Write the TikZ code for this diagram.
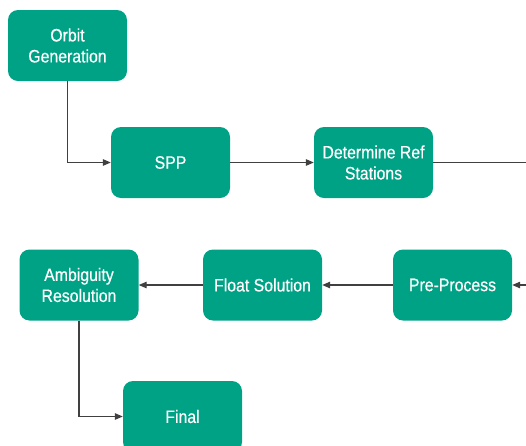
\documentclass[tikz,border=0pt]{standalone}
\usepackage{fontspec}
\setmainfont{Liberation Sans}[FakeStretch=0.88,FakeBold=0.4]
\usetikzlibrary{arrows.meta}
\definecolor{boxteal}{RGB}{0,162,134}
\definecolor{linegray}{RGB}{64,64,64}
\begin{document}
\begin{tikzpicture}[x=1pt,y=-1pt,
  box/.style={rectangle, rounded corners=10pt, fill=boxteal, draw=none,
    minimum width=119pt, minimum height=71pt, inner sep=2pt,
    text=white, align=center, font=\fontsize{18}{21}\selectfont},
  conn/.style={draw=linegray, line width=1.2pt},
  arr/.style={conn, -{Triangle[length=8pt,width=6.5pt]}}]
\useasboundingbox (0,0) rectangle (526,445);
\node[box] (orbit) at (67.5,45.5) {Orbit\\Generation};
\node[box] (spp) at (170.5,162.5) {SPP};
\node[box] (drs) at (373.5,162.5) {Determine Ref\\Stations};
\node[box] (pre) at (452.5,285) {Pre-Process};
\node[box] (float) at (262.5,285) {Float Solution};
\node[box] (amb) at (79,285) {Ambiguity\\Resolution};
\node[box] (final) at (182.5,416.5) {Final};
\coordinate (rout) at (526,162.5);
\coordinate (rin) at (526,285);
\draw[arr] (orbit.south) |- (spp.west);
\draw[arr] (spp.east) -- (drs.west);
\draw[conn] (drs.east) -- (rout);
\draw[arr] (rin) -- (pre.east);
\draw[arr] (pre.west) -- (float.east);
\draw[arr] (float.west) -- (amb.east);
\draw[arr] (amb.south) |- (final.west);
\end{tikzpicture}
\end{document}
